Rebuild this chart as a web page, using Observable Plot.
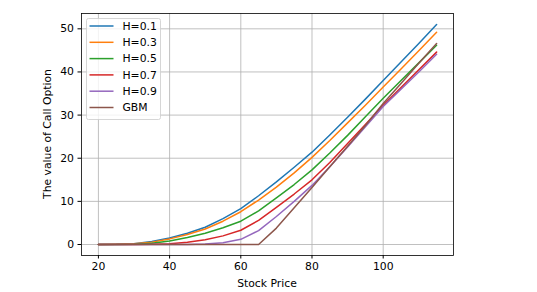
<!DOCTYPE html>
<html><head><meta charset="utf-8">
<script src="https://cdn.jsdelivr.net/npm/d3@7"></script>
<script src="https://cdn.jsdelivr.net/npm/@observablehq/plot@0.6"></script>
<style>
body{margin:0;background:#fff;}
svg{font-family:"DejaVu Sans",sans-serif;}
</style></head><body><div id="chart"></div>
<script>
const stockPrices = [20,25,30,35,40,45,50,55,60,65,70,75,80,85,90,95,100,105,110,115];
const seriesNames = ["H=0.1","H=0.3","H=0.5","H=0.7","H=0.9","GBM"];
const h01 = [0,0.05,0.2,0.7,1.5,2.6,4.0,6.0,8.3,11.3,14.5,17.9,21.4,25.4,29.5,33.7,38.0,42.3,46.6,51.0];
const h03 = [0,0.03,0.15,0.55,1.3,2.3,3.6,5.4,7.6,10.3,13.3,16.6,20.2,24.1,28.2,32.3,36.5,40.7,44.9,49.2];
const h05 = [0,0,0.05,0.3,0.8,1.6,2.6,3.9,5.4,7.8,10.8,13.9,17.3,21.2,25.3,29.6,33.9,38.0,42.1,46.2];
const h07 = [0,0,0,0.05,0.2,0.5,1.1,2.0,3.3,5.6,8.6,11.7,15.0,19.0,23.4,27.8,32.3,36.4,40.5,44.6];
const h09 = [0,0,0,0,0,0,0.1,0.4,1.2,3.2,6.5,10.0,13.7,18.0,22.6,27.3,32.0,36.0,40.0,44.1];
const gbm = [0,0,0,0,0,0,0,0,0,0,3.8,8.5,13.2,18.0,22.8,27.6,32.7,37.3,42.0,46.6];
const xTicks = [20,40,60,80,100];
const yTicks = [0,10,20,30,40,50];
const colors = ["#1f77b4","#ff7f0e","#2ca02c","#d62728","#9467bd","#8c564b"];

const all = [h01,h03,h05,h07,h09,gbm];
const rows = [];
seriesNames.forEach((name,i)=>stockPrices.forEach((s,j)=>rows.push({series:name,price:s,value:all[i][j]})));

const W=537,H=292,ML=81,MR=84,MT=13,MB=37,FS=10.8;
const plot = Plot.plot({
  width:W,height:H,marginLeft:ML,marginRight:MR,marginTop:MT,marginBottom:MB,
  style:{fontFamily:"DejaVu Sans",fontSize:FS+"px",color:"#000",background:"#fff"},
  x:{domain:[15.25,119.75],ticks:xTicks,label:null},
  y:{domain:[-2.55,53.55],ticks:yTicks,label:null},
  color:{domain:seriesNames,range:colors},
  marks:[
    Plot.gridX(xTicks,{stroke:"#b0b0b0",strokeOpacity:1,strokeWidth:0.8}),
    Plot.gridY(yTicks,{stroke:"#b0b0b0",strokeOpacity:1,strokeWidth:0.8}),
    Plot.line(rows,{x:"price",y:"value",z:"series",stroke:"series",strokeWidth:1.5}),
    Plot.frame({stroke:"#000",strokeWidth:0.8}),
    Plot.axisX({ticks:xTicks,tickSize:3.5,tickPadding:3,fontSize:FS,label:null}),
    Plot.axisY({ticks:yTicks,tickSize:3.5,tickPadding:4,fontSize:FS,label:null})
  ]
});
document.getElementById("chart").appendChild(plot);
const svg = d3.select(plot);
// axis labels
svg.append("text").attr("x",(ML+W-MR)/2).attr("y",287).attr("text-anchor","middle")
  .attr("font-size",FS).attr("fill","#000").text("Stock Price");
svg.append("text").attr("transform",`translate(51,${(MT+H-MB)/2}) rotate(-90)`).attr("text-anchor","middle")
  .attr("font-size",FS).attr("fill","#000").text("The value of Call Option");
// legend
const lg = svg.append("g");
lg.append("rect").attr("x",86.5).attr("y",18.5).attr("width",74).attr("height",101).attr("rx",2)
  .attr("fill","#fff").attr("fill-opacity",0.8).attr("stroke","#cccccc").attr("stroke-width",0.8);
seriesNames.forEach((name,i)=>{
  const y = 26 + i*16.3;
  lg.append("line").attr("x1",89.5).attr("x2",113.5).attr("y1",y).attr("y2",y)
    .attr("stroke",colors[i]).attr("stroke-width",1.5);
  lg.append("text").attr("x",122.5).attr("y",y).attr("dy","0.35em").attr("font-size",FS)
    .attr("text-anchor","start").attr("fill","#000").text(name);
});
</script></body></html>
